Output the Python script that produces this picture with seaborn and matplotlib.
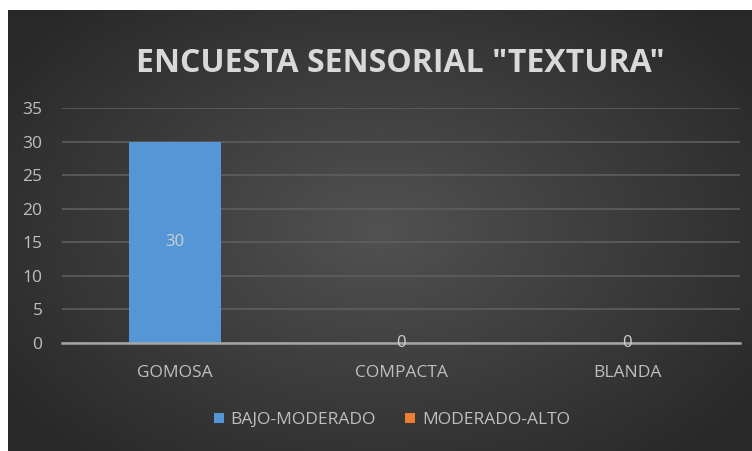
import numpy as np
import pandas as pd
import matplotlib
matplotlib.use("Agg")
import matplotlib.pyplot as plt
import seaborn as sns

categories = ["GOMOSA", "COMPACTA", "BLANDA"]
series_names = ["BAJO-MODERADO", "MODERADO-ALTO"]
bajo_moderado = [30, 0, 0]
moderado_alto = [0, 0, 0]
y_ticks = [0, 5, 10, 15, 20, 25, 30, 35]
title = 'ENCUESTA SENSORIAL "TEXTURA"'

df = pd.DataFrame({
    "cat": categories * 2,
    "serie": [series_names[0]] * 3 + [series_names[1]] * 3,
    "val": bajo_moderado + moderado_alto,
})

sns.set_theme(style="dark")
plt.rcParams['font.family'] = ['Open Sans', 'DejaVu Sans']

W, H = 752, 451
fig = plt.figure(figsize=(W / 100, H / 100), dpi=100)
fig.patch.set_facecolor("white")

# dark radial gradient background
bg = fig.add_axes([8 / W, 0, (W - 8) / W, (H - 10) / H], zorder=-10)
yy, xx = np.mgrid[-1:1:300j, -1:1:500j]
r = np.sqrt(xx ** 2 + (yy * 0.9) ** 2)
g = np.clip(0.32 - 0.13 * r, 0.16, 0.32)
img = np.dstack([g, g, g])
bg.imshow(img, aspect="auto", extent=[0, 1, 0, 1])
bg.set_axis_off()

ax = fig.add_axes([62 / W, (H - 343) / H, (740 - 62) / W, (343 - 108) / H])
ax.set_facecolor("none")
colors = {series_names[0]: "#5597d6", series_names[1]: "#ed7d31"}
sns.barplot(data=df, x="cat", y="val", hue="serie", dodge=False, width=0.41,
            palette=colors, ax=ax, legend=True, saturation=1, linewidth=0)

ax.set_ylim(0, 35)
ax.set_yticks(y_ticks)
ax.set_xlim(-0.5, 2.5)
ax.yaxis.grid(True, color="#5e5e5e", linewidth=1.2)
ax.xaxis.grid(False)
ax.set_axisbelow(True)
for s in ["top", "right", "left"]:
    ax.spines[s].set_visible(False)
ax.spines["bottom"].set_color("#a6a6a6")
ax.spines["bottom"].set_linewidth(1.8)
ax.tick_params(axis="y", colors="#bfbfbf", labelsize=12.5, pad=14, length=0)
ax.tick_params(axis="x", colors="#bfbfbf", labelsize=12.5, pad=16, length=0)
ax.set_xlabel("")
ax.set_ylabel("")

# value labels for first series
cont = ax.containers[0]
ax.bar_label(cont, labels=[str(v) for v in bajo_moderado], label_type="center",
             color="#d0d0d0", fontsize=12)

# legend
leg = ax.get_legend()
handles, labels = ax.get_legend_handles_labels()
leg.remove()
for h in handles:
    h.set_linewidth(0)
fig.legend(handles, labels, loc="center", bbox_to_anchor=(392 / W, (H - 420) / H),
           ncol=2, frameon=False, fontsize=12.5, labelcolor="#bfbfbf",
           handlelength=0.55, handleheight=0.55, handletextpad=0.4, columnspacing=1.7)

fig.text(400 / W, (H - 64) / H, title, ha="center", va="center", color="#d9d9d9",
         fontsize=23, fontweight="bold")

fig.savefig("out.png", dpi=100)
